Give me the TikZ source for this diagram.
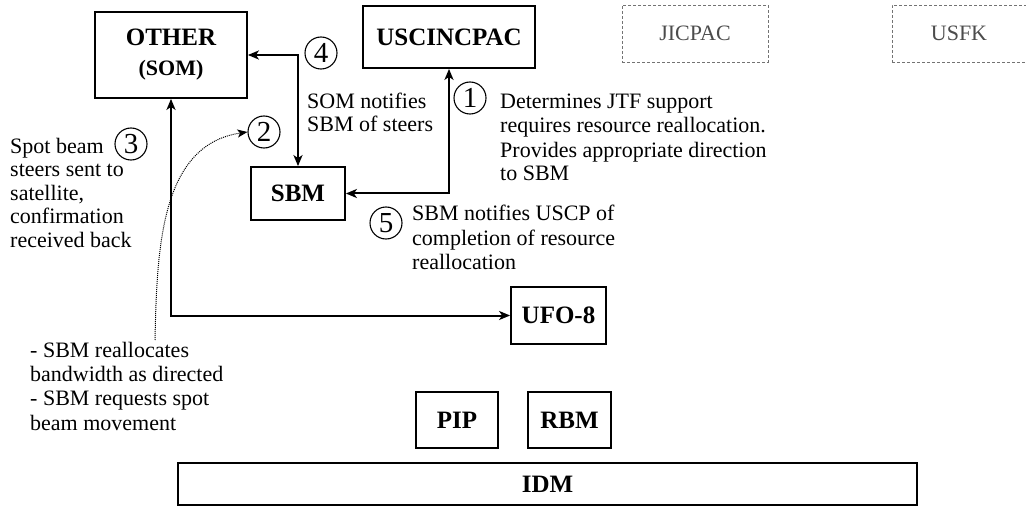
\documentclass[tikz,border=0pt]{standalone}
\usepackage{fontspec}
\setmainfont{Liberation Serif}
\usetikzlibrary{arrows.meta}
\begin{document}
\begin{tikzpicture}[x=1pt,y=-1pt,
  box/.style={draw,line width=1.8pt,inner sep=0pt,font=\fontsize{25}{28}\selectfont\bfseries,align=center},
  ghost/.style={draw=black!55,densely dashed,line width=0.8pt,inner sep=0pt,font=\fontsize{22}{25}\selectfont,text=black!70},
  link/.style={line width=2pt,{Stealth[length=11pt,width=9pt,inset=3pt]}-{Stealth[length=11pt,width=9pt,inset=3pt]}},
  dots/.style={line width=1pt,densely dotted,-{Stealth[length=10pt,width=8pt,inset=2.5pt]}},
  num/.style={circle,draw,line width=1.1pt,inner sep=0pt,minimum size=32pt,font=\fontsize{29}{29}\selectfont},
  note/.style={anchor=base west,inner sep=0pt,align=left,font=\fontsize{22}{24}\selectfont}]
\useasboundingbox (0,0) rectangle (1026,508);

% boxes
\node[box,minimum width=152pt,minimum height=86pt] (other) at (171,55) {OTHER\\[2pt]{\fontsize{22}{22}\selectfont (SOM)}};
\node[box,minimum width=172pt,minimum height=62pt] (usc) at (449,37) {USCINCPAC};
\node[ghost,minimum width=146pt,minimum height=57pt] (jic) at (695,33.5) {JICPAC};
\node[ghost,minimum width=134pt,minimum height=57pt] (usfk) at (959,33.5) {USFK};
\node[box,minimum width=94pt,minimum height=53pt] (sbm) at (298,193.5) {SBM};
\node[box,minimum width=95pt,minimum height=57pt] (ufo) at (558.5,315.5) {UFO-8};
\node[box,minimum width=82pt,minimum height=56pt] (pip) at (457,420) {PIP};
\node[box,minimum width=83pt,minimum height=56pt] (rbm) at (569.5,420) {RBM};
\node[box,minimum width=739pt,minimum height=42pt] (idm) at (547.5,484) {IDM};

% connectors
\draw[link] (other.east) -| (sbm.north);
\draw[link] (sbm.east) -| (usc.south);
\draw[link] (other.south) |- (ufo.west);

% circled numbers
\node[num] (n1) at (470,98) {1};
\node[num] (n2) at (264,132) {2};
\node[num] (n3) at (131,144) {3};
\node[num] (n4) at (321,53) {4};
\node[num] (n5) at (386,223) {5};

% dotted connector
\coordinate (dstart) at (155,340);
\draw[dots] (dstart) .. controls (157,250) and (160,145) .. (n2.west);

% notes (anchor = baseline of last line)
\node[note] (t4) at (307,132) {SOM notifies\\SBM of steers};
\node[note] (t1) at (500,181) {Determines JTF support\\requires resource reallocation.\\Provides appropriate direction\\to SBM};
\node[note] (t5) at (412,269) {SBM notifies USCP of\\completion of resource\\reallocation};
\node[note,font=\fontsize{22}{23.5}\selectfont] (t3) at (10,247) {Spot beam\\steers sent to\\satellite,\\confirmation\\received back};
\node[note,font=\fontsize{22}{24.3}\selectfont] (t2) at (30,430) {- SBM reallocates\\bandwidth as directed\\- SBM requests spot\\beam movement};
\end{tikzpicture}
\end{document}
